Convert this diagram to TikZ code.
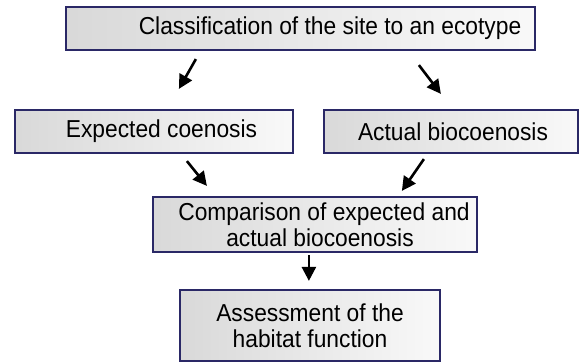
\documentclass[tikz,border=0pt]{standalone}
\usepackage{fontspec}
\setmainfont{Liberation Sans}
\usetikzlibrary{arrows.meta}
\definecolor{navy}{RGB}{42,40,102}
\newcommand{\sq}[1]{\scalebox{0.93}[1]{#1}}

\begin{document}
\begin{tikzpicture}[x=1pt, y=-1pt,
    every node/.style={font=\fontsize{24.5}{26.5}\selectfont},
    box/.style={draw=navy, line width=2.2pt, left color=gray!30, right color=gray!5,
        minimum height=43pt, inner sep=0pt, align=center},
    arr/.style={-{Triangle[length=14pt,width=14pt]}, line width=2.6pt}]
    \useasboundingbox (0,0) rectangle (582,363);

    \node[box, minimum width=469pt] (site) at (300.5,28.5) {\hspace*{59pt}\sq{Classification of the site to an ecotype}};
    \node[box, minimum width=278pt] (exp) at (154,131.5) {\hspace*{15pt}\sq{Expected coenosis}};
    \node[box, minimum width=254pt] (act) at (451,131.5) {\hspace*{4pt}\sq{Actual biocoenosis}};
    \node[box, minimum width=324pt, minimum height=55pt] (cmp) at (315,224.5) {\hspace*{18pt}\sq{Comparison of expected and}\\\hspace*{10pt}\sq{actual biocoenosis}};
    \node[box, minimum width=260pt, minimum height=71pt] (ass) at (310,325.5) {\sq{Assessment of the}\\\sq{habitat function}};

    \draw[arr] ([shift={(131,8)}]site.south west) -- ([shift={(165,-20)}]exp.north west);
    \draw[arr] ([shift={(354,14)}]site.south west) -- ([shift={(118,-15)}]act.north west);
    \draw[arr] ([shift={(173,7)}]exp.south west) -- ([shift={(55,-10)}]cmp.north west);
    \draw[arr] ([shift={(101,5)}]act.south west) -- ([shift={(250,-5)}]cmp.north west);
    \draw[arr] ([shift={(157,2)}]cmp.south west) -- ([shift={(130,-8)}]ass.north west);
\end{tikzpicture}
\end{document}
